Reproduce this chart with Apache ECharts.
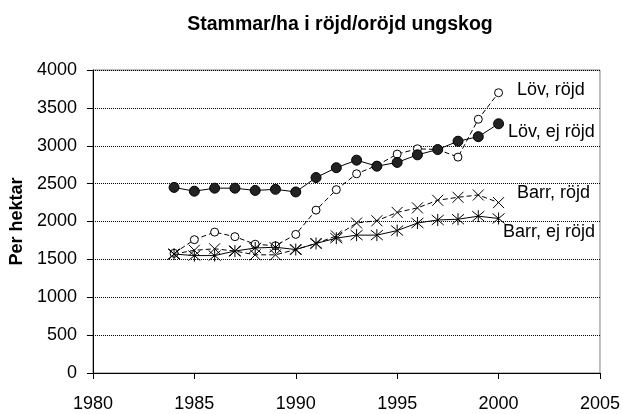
<!DOCTYPE html>
<html lang="sv">
<head>
    <meta charset="UTF-8">
    <title>Stammar/ha i röjd/oröjd ungskog</title>
    <script src="https://cdn.jsdelivr.net/npm/echarts@6/dist/echarts.min.js"></script>
    <style type="text/css">
        html, body { margin: 0; height: 100%; background: #fff; }
        #main { width: 623px; height: 414px; }
    </style>
</head>
<body>
    <div id="main"></div>
    <script type="text/javascript">
        // data
        var years = [1984, 1985, 1986, 1987, 1988, 1989, 1990, 1991, 1992, 1993, 1994, 1995, 1996, 1997, 1998, 1999, 2000];
        var lovRojd   = [1580, 1760, 1860, 1800, 1700, 1680, 1830, 2150, 2420, 2630, 2740, 2890, 2960, 2950, 2850, 3350, 3700];
        var lovEjRojd = [2450, 2400, 2440, 2440, 2410, 2425, 2390, 2580, 2710, 2810, 2730, 2780, 2880, 2950, 3060, 3120, 3290];
        var barrRojd  = [1570, 1620, 1640, 1610, 1560, 1560, 1630, 1710, 1810, 1980, 2010, 2120, 2180, 2280, 2320, 2350, 2250];
        var barrEjRojd = [1570, 1550, 1550, 1610, 1650, 1660, 1630, 1710, 1780, 1820, 1820, 1880, 1980, 2020, 2030, 2070, 2040];
        var seriesNames = ['Löv, röjd', 'Löv, ej röjd', 'Barr, röjd', 'Barr, ej röjd'];

        function pairs(vals) {
            return years.map(function (y, i) { return [y, vals[i]]; });
        }

        var font = 'Arial, "Liberation Sans", sans-serif';
        var symX = 'path://M0,0L10,10M10,0L0,10';
        var symStar = 'path://M0,0L10,10M10,0L0,10M5,-1L5,11';

        var chart = echarts.init(document.getElementById('main'));
        var option = {
            animation: false,
            backgroundColor: '#fff',
            title: {
                text: 'Stammar/ha i röjd/oröjd ungskog',
                left: 335, top: 10, textAlign: 'center',
                textStyle: { fontFamily: font, fontSize: 19.5, fontWeight: 'bold', color: '#000' }
            },
            grid: {
                left: 89, right: 23, top: 70, bottom: 41,
                show: true, borderColor: '#808080', borderWidth: 1
            },
            xAxis: {
                type: 'value', min: 1980, max: 2005, interval: 5,
                axisLine: { lineStyle: { color: '#000' } },
                axisTick: { length: 6, lineStyle: { color: '#000' } },
                axisLabel: { fontFamily: font, fontSize: 18, color: '#000', margin: 22,
                    formatter: function (v) { return String(v); } },
                splitLine: { show: false }
            },
            yAxis: {
                type: 'value', min: 0, max: 4000, interval: 500,
                name: 'Per hektar', nameLocation: 'middle', nameGap: 62, nameRotate: 90,
                nameTextStyle: { fontFamily: font, fontSize: 18, fontWeight: 'bold', color: '#000' },
                axisLine: { show: true, lineStyle: { color: '#000' } },
                axisTick: { show: true, length: 6, lineStyle: { color: '#000' } },
                axisLabel: { fontFamily: font, fontSize: 18, color: '#000', margin: 16,
                    formatter: function (v) { return String(v); } },
                splitLine: { lineStyle: { color: '#000', type: [1, 1], width: 1 } }
            },
            series: [
                {
                    name: seriesNames[0], type: 'line', data: pairs(lovRojd),
                    symbol: 'circle', symbolSize: 8,
                    itemStyle: { color: '#fff', borderColor: '#000', borderWidth: 1 },
                    lineStyle: { color: '#000', width: 1, type: [5, 3] }, z: 3
                },
                {
                    name: seriesNames[1], type: 'line', data: pairs(lovEjRojd),
                    symbol: 'circle', symbolSize: 10,
                    itemStyle: { color: '#222', borderColor: '#000', borderWidth: 1 },
                    lineStyle: { color: '#000', width: 1 }, z: 4
                },
                {
                    name: seriesNames[2], type: 'line', data: pairs(barrRojd),
                    symbol: symX, symbolSize: 11,
                    itemStyle: { color: 'none', borderColor: '#000', borderWidth: 1 },
                    lineStyle: { color: '#000', width: 1, type: [5, 3] }, z: 3
                },
                {
                    name: seriesNames[3], type: 'line', data: pairs(barrEjRojd),
                    symbol: symStar, symbolSize: 12,
                    itemStyle: { color: 'none', borderColor: '#000', borderWidth: 1 },
                    lineStyle: { color: '#000', width: 1 }, z: 4
                }
            ],
            graphic: [
                { type: 'text', x: 517, y: 90, style: { text: seriesNames[0], font: '18px ' + font, fill: '#000', verticalAlign: 'middle' } },
                { type: 'text', x: 508, y: 132, style: { text: seriesNames[1], font: '18px ' + font, fill: '#000', verticalAlign: 'middle' } },
                { type: 'text', x: 517, y: 193, style: { text: seriesNames[2], font: '18px ' + font, fill: '#000', verticalAlign: 'middle' } },
                { type: 'text', x: 503, y: 232, style: { text: seriesNames[3], font: '18px ' + font, fill: '#000', verticalAlign: 'middle' } }
            ]
        };
        chart.setOption(option);
    </script>
</body>
</html>
